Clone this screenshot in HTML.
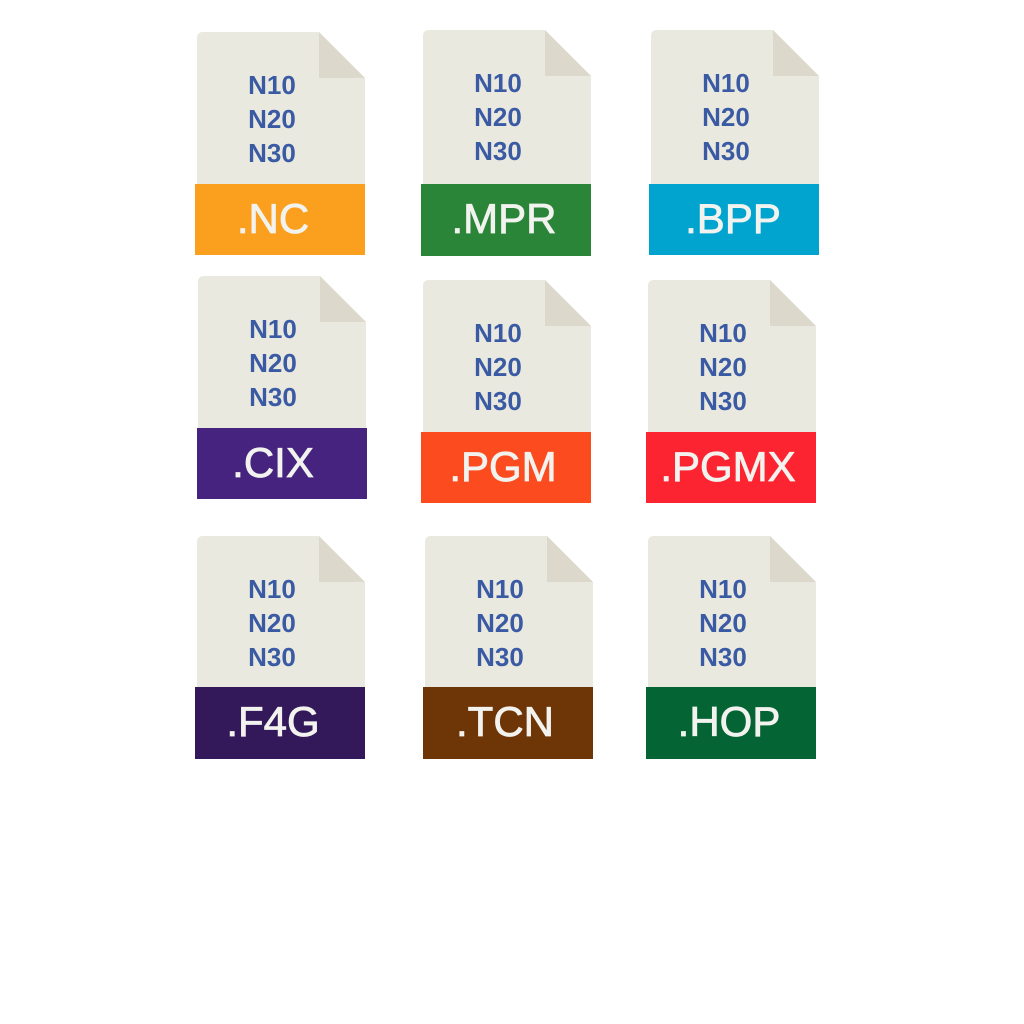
<!DOCTYPE html>
<html><head><meta charset="utf-8"><style>html,body{margin:0;padding:0;background:#fff}svg{display:block}</style></head>
<body>
<svg width="1024" height="1024" viewBox="0 0 1024 1024" xmlns="http://www.w3.org/2000/svg">
<defs>
<g id="pg">
<path d="M6,0 L122,0 L168,46 L168,160 L0,160 L0,6 Q0,0 6,0 Z" fill="#eae9e0" stroke="none"/>
<polygon points="122,0 122,46 168,46" fill="#dcd9cc" stroke="none"/>
<g font-family="Liberation Sans, sans-serif" font-weight="bold" font-size="26" fill="#3a5ba3" stroke="none" text-anchor="middle">
<text x="75" y="62">N10</text><text x="75" y="96">N20</text><text x="75" y="130">N30</text>
</g>
</g>
</defs>
<use href="#pg" x="197" y="32"/><use href="#pg" x="423" y="30"/><use href="#pg" x="651" y="30"/>
<use href="#pg" x="198" y="276"/><use href="#pg" x="423" y="280"/><use href="#pg" x="648" y="280"/>
<use href="#pg" x="197" y="536"/><use href="#pg" x="425" y="536"/><use href="#pg" x="648" y="536"/>
<rect x="195" y="184" width="170" height="71" fill="#fb9f1f"/>
<rect x="421" y="184" width="170" height="72" fill="#2a8539"/>
<rect x="649" y="184" width="170" height="71" fill="#00a4cf"/>
<rect x="197" y="428" width="170" height="71" fill="#45237f"/>
<rect x="421" y="432" width="170" height="71" fill="#fc4b1f"/>
<rect x="646" y="432" width="170" height="71" fill="#fd2431"/>
<rect x="195" y="687" width="170" height="72" fill="#33185a"/>
<rect x="423" y="687" width="170" height="72" fill="#6e3507"/>
<rect x="646" y="687" width="170" height="72" fill="#046433"/>
<g font-family="Liberation Sans, sans-serif" font-size="42" fill="#f2f2ee" stroke="#f2f2ee" stroke-width="0.8" text-anchor="middle">
<text x="273" y="233">.NC</text>
<text x="504" y="233">.MPR</text>
<text x="733" y="233">.BPP</text>
<text x="273" y="477">.CIX</text>
<text x="503" y="481">.PGM</text>
<text x="728" y="481">.PGMX</text>
<text x="273" y="736">.F4G</text>
<text x="505" y="736">.TCN</text>
<text x="729" y="736">.HOP</text>
</g>
</svg>
</body></html>
